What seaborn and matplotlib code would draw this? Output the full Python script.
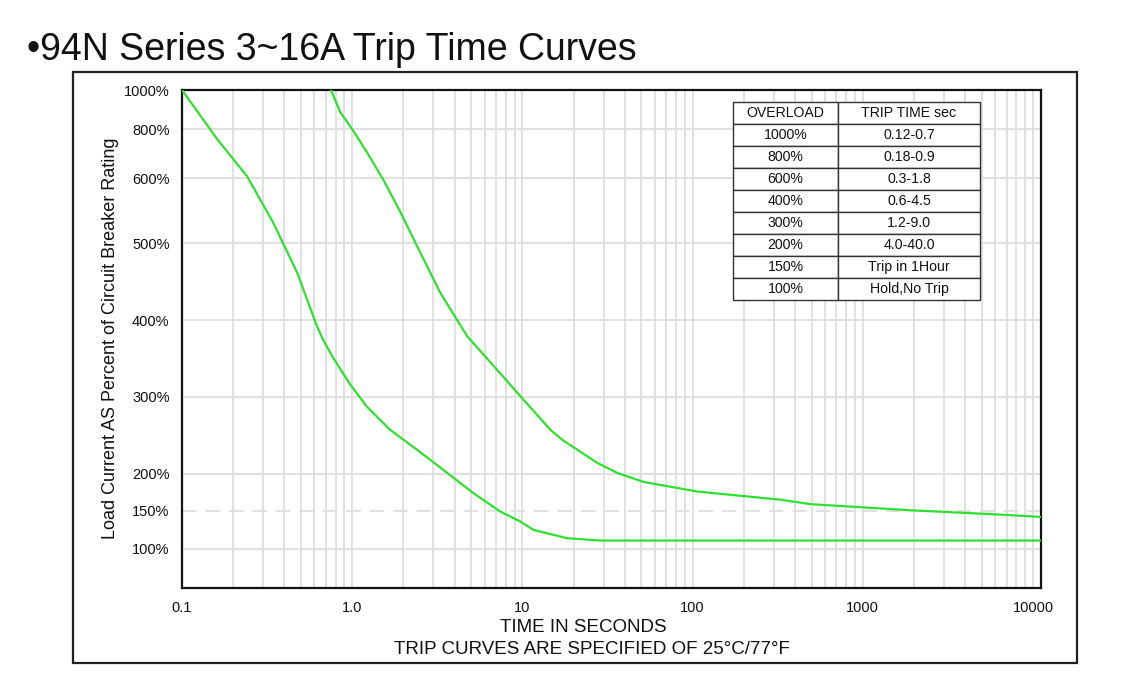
import numpy as np
import pandas as pd
import matplotlib
matplotlib.use("Agg")
import matplotlib.pyplot as plt
import seaborn as sns
from matplotlib.patches import Rectangle

# ---------------- data ----------------
upper_time = [0.751, 0.85, 1.0, 1.22, 1.52, 1.92, 2.41, 3.29, 4.75, 7.73, 9.34,
              11.9, 14.6, 17.4, 21.1, 27.6, 36.2, 51.5, 107, 330, 494, 1840, 6480, 11150]
upper_load = [1000, 887, 800, 706, 598, 548, 496, 436, 379, 326, 305,
              279, 257, 243, 231, 214, 201, 189, 176, 165, 159, 151, 145, 142]

lower_time = [0.1, 0.161, 0.241, 0.343, 0.475, 0.622, 0.674, 0.773, 0.973, 1.22, 1.67,
              2.41, 3.43, 5.15, 7.42, 9.73, 11.6, 18.4, 28.8, 11150]
lower_load = [1000, 759, 608, 532, 462, 392, 375, 351, 316, 287, 257,
              231, 205, 174, 149, 136, 125, 114, 111, 111]

y_ticks = [100, 150, 200, 300, 400, 500, 600, 800, 1000]
y_tick_labels = ["100%", "150%", "200%", "300%", "400%", "500%", "600%", "800%", "1000%"]
x_ticks = [0.1, 1, 10, 100, 1000, 10000]
x_tick_labels = ["0.1", "1.0", "10", "100", "1000", "10000"]

table_overload = ["1000%", "800%", "600%", "400%", "300%", "200%", "150%", "100%"]
table_trip = ["0.12-0.7", "0.18-0.9", "0.3-1.8", "0.6-4.5", "1.2-9.0", "4.0-40.0",
              "Trip in 1Hour", "Hold,No Trip"]
table_header = ["OVERLOAD", "TRIP TIME sec"]

title = "\u202294N Series 3~16A Trip Time Curves"
xlabel1 = "TIME IN SECONDS"
xlabel2 = "TRIP CURVES ARE SPECIFIED OF 25\u00b0C/77\u00b0F"
ylabel = "Load Current AS Percent of Circuit Breaker Rating"

# --------------- scale definition (chart's irregular y scale) --------------
scale_vals = [50, 100, 150, 200, 300, 400, 500, 600, 800, 1000]
scale_pos = [0, 39, 77, 114, 191, 267, 344, 409, 458, 497]


def fwd(v):
    return np.interp(v, scale_vals, scale_pos)


def inv(p):
    return np.interp(p, scale_pos, scale_vals)


# ---------------- plotting ----------------
sns.set_theme(style="white")
plt.rcParams["font.family"] = ["Liberation Sans", "DejaVu Sans"]

df = pd.concat([
    pd.DataFrame({"time": upper_time, "load": upper_load, "curve": "max"}),
    pd.DataFrame({"time": lower_time, "load": lower_load, "curve": "min"}),
])

fig = plt.figure(figsize=(11.32, 6.97), dpi=100)
ax = fig.add_axes([182 / 1132, 1 - 588 / 697, (1041 - 182) / 1132, (588 - 90) / 697])

ax.set_xscale("log")
ax.set_yscale("function", functions=(fwd, inv))
ax.set_xlim(0.1, 11150)
ax.set_ylim(50, 1000)

sns.lineplot(data=df, x="time", y="load", hue="curve", units="curve",
             estimator=None, sort=False, palette=["#2fe02f", "#2fe02f"],
             linewidth=1.6, legend=False, ax=ax, zorder=3)

ax.set_xticks(x_ticks)
ax.set_xticklabels(x_tick_labels)
ax.xaxis.set_minor_locator(matplotlib.ticker.LogLocator(base=10, subs=np.arange(2, 10)))
ax.xaxis.set_minor_formatter(matplotlib.ticker.NullFormatter())
ax.set_yticks(y_ticks)
ax.set_yticklabels(y_tick_labels)
ax.yaxis.set_minor_locator(matplotlib.ticker.NullLocator())

ax.tick_params(axis="both", which="both", length=0, labelsize=10.5, colors="#111111")
ax.tick_params(axis="x", pad=9)
ax.tick_params(axis="y", pad=9)

ax.grid(True, axis="x", which="both", color="#dedede", linewidth=1.3)
ax.grid(True, axis="y", which="major", color="#dedede", linewidth=1.3)
for tick_val, gl in zip(y_ticks, ax.get_ygridlines()):
    if tick_val == 150:
        gl.set_linestyle((0, (8, 5)))
ax.set_axisbelow(True)

for s in ax.spines.values():
    s.set_color("#111111")
    s.set_linewidth(1.6)

ax.set_xlabel("")
ax.set_ylabel(ylabel, fontsize=13, color="#111111")
ax.yaxis.set_label_coords((119 - 182) / 859, (588 - 338) / 498)

fig.text(583 / 1132, 1 - 627 / 697, xlabel1, ha="center", va="center", fontsize=13.5, color="#111111")
fig.text(592 / 1132, 1 - 649 / 697, xlabel2, ha="center", va="center", fontsize=13.5, color="#111111")
fig.text(0.024, 1 - 60 / 697, title, ha="left", va="baseline", fontsize=27, color="#111111")

# outer frame
fig.patches.append(Rectangle((73 / 1132, 1 - 663 / 697), (1077 - 73) / 1132, (663 - 72) / 697,
                             transform=fig.transFigure, fill=False, edgecolor="#222222",
                             linewidth=1.6, zorder=0))

# table
cell_text = [[o, t] for o, t in zip(table_overload, table_trip)]
tbl = ax.table(cellText=cell_text, colLabels=table_header,
               colWidths=[105 / 247, 142 / 247], cellLoc="center",
               bbox=[(733 - 182) / 859, (588 - 300) / 498, (980 - 733) / 859, (300 - 102) / 498],
               zorder=5)
tbl.auto_set_font_size(False)
tbl.set_fontsize(10.2)
for (r, c), cell in tbl.get_celld().items():
    cell.set_edgecolor("#333333")
    cell.set_linewidth(1.0)
    cell.set_facecolor("white")
    cell.get_text().set_color("#111111")

fig.savefig("out.png", dpi=100, facecolor="white")
